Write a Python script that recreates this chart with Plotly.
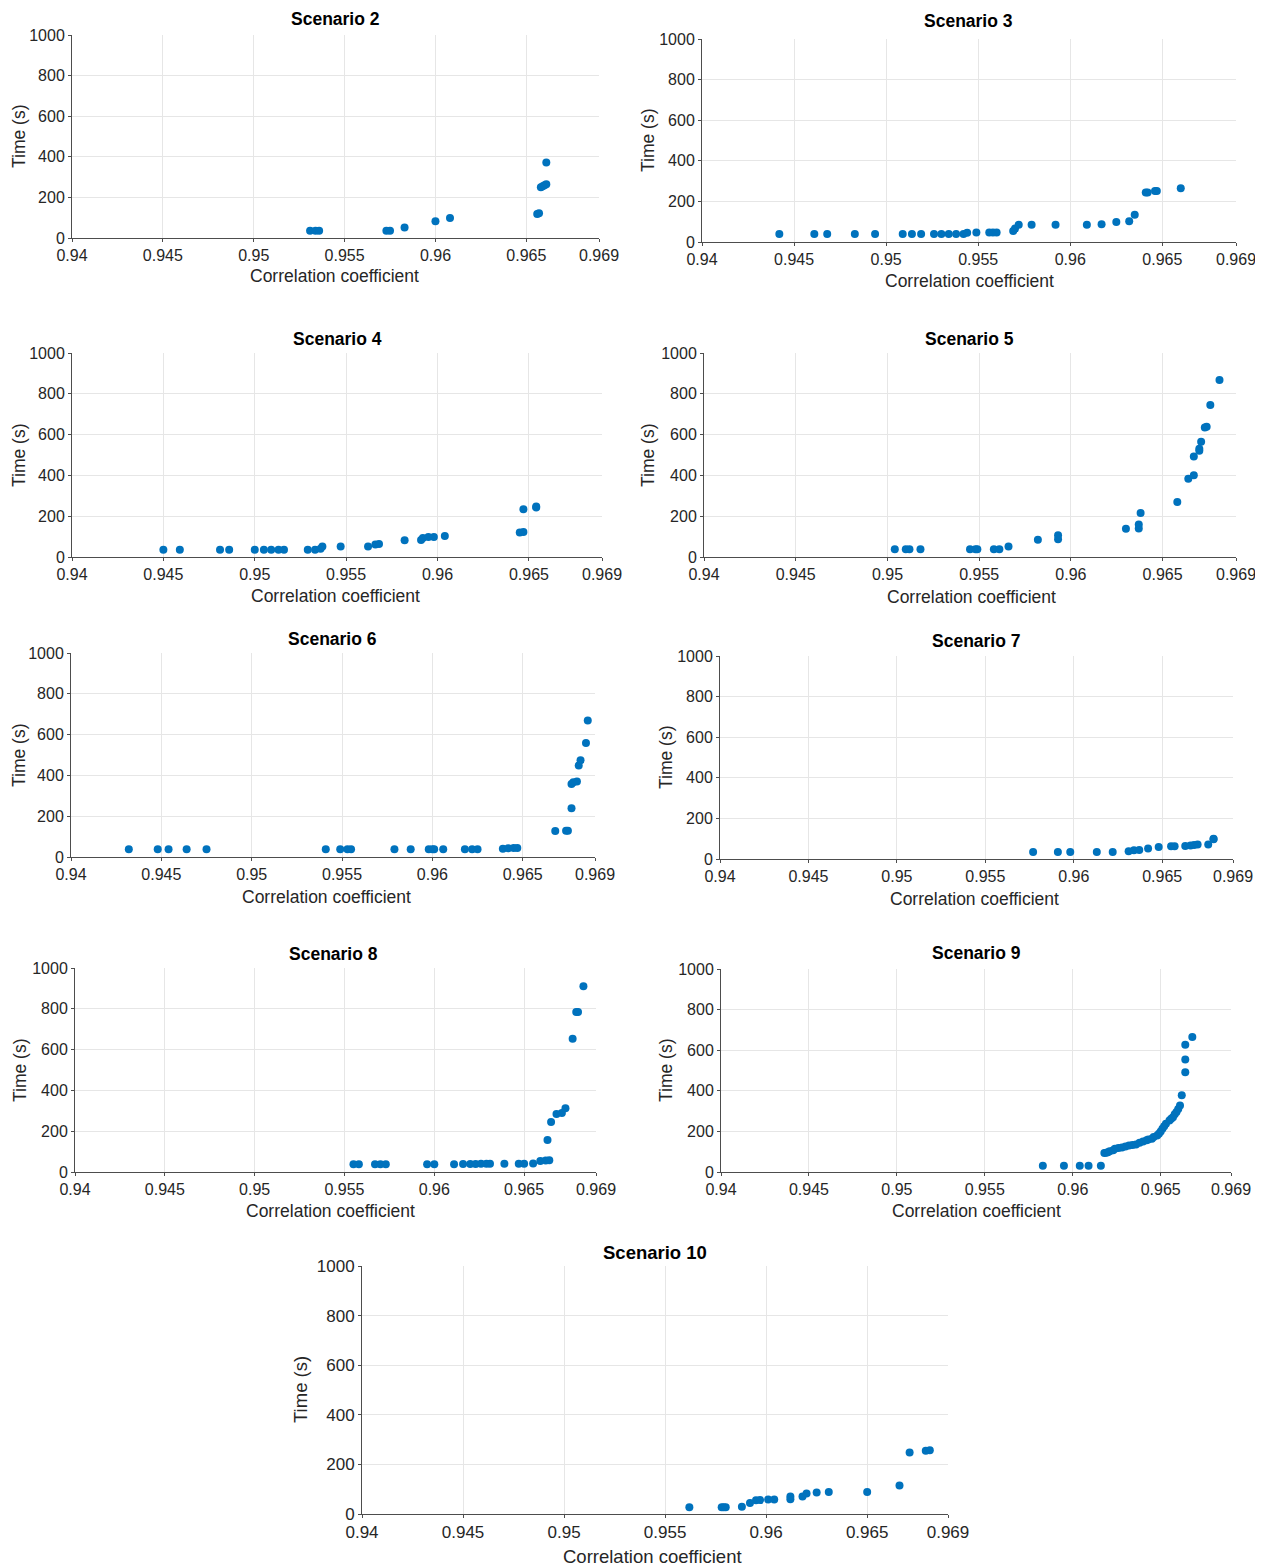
import plotly.graph_objects as go

W, H = 1263, 1566
OFF = 8                      # page body margin
FW, FH = W - OFF, H - OFF    # figure size

# ---------------- data ----------------
s2_corr = [0.9531, 0.9534, 0.9536, 0.9573, 0.9575, 0.9583, 0.9600, 0.9608,
           0.9656, 0.9657, 0.9658, 0.9659, 0.9660, 0.9661, 0.9661]
s2_time = [36, 36, 36, 36, 36, 52, 83, 98, 118, 122, 250, 255, 260, 265, 372]

s3_corr = [0.9442, 0.9461, 0.9468, 0.9483, 0.9494, 0.9509, 0.9514, 0.9519,
           0.9526, 0.9530, 0.9534, 0.9538, 0.9542, 0.9544, 0.9549, 0.9556,
           0.9558, 0.9560, 0.9569, 0.9570, 0.9572, 0.9579, 0.9592, 0.9609,
           0.9617, 0.9625, 0.9632, 0.9635, 0.9641, 0.9642, 0.9646, 0.9647, 0.9660]
s3_time = [39, 39, 39, 39, 39, 39, 39, 39, 39, 39, 39, 39, 40, 45, 47, 47,
           47, 47, 54, 67, 85, 85, 85, 85, 88, 99, 102, 134, 244, 244, 251, 251, 265]

s4_corr = [0.9450, 0.9459, 0.9481, 0.9486, 0.9500, 0.9505, 0.9509, 0.9513,
           0.9516, 0.9529, 0.9533, 0.9536, 0.9537, 0.9547, 0.9562, 0.9566,
           0.9568, 0.9582, 0.9591, 0.9592, 0.9595, 0.9598, 0.9604, 0.9645,
           0.9647, 0.9647, 0.9654, 0.9654]
s4_time = [35, 35, 35, 35, 35, 35, 35, 35, 35, 35, 35, 40, 51, 51, 51, 61,
           64, 82, 83, 93, 98, 98, 103, 120, 123, 234, 243, 247]

s5_corr = [0.9504, 0.9510, 0.9512, 0.9518, 0.9545, 0.9548, 0.9549, 0.9558,
           0.9561, 0.9566, 0.9582, 0.9593, 0.9593, 0.9630, 0.9637, 0.9637,
           0.9638, 0.9658, 0.9664, 0.9667, 0.9667, 0.9670, 0.9670, 0.9671,
           0.9673, 0.9674, 0.9676, 0.9681]
s5_time = [38, 38, 38, 38, 38, 38, 38, 38, 38, 52, 84, 87, 107, 138, 140,
           159, 216, 269, 383, 401, 493, 521, 531, 565, 635, 638, 745, 868]

s6_corr = [0.9432, 0.9448, 0.9454, 0.9464, 0.9475, 0.9541, 0.9549, 0.9553,
           0.9555, 0.9579, 0.9588, 0.9598, 0.9600, 0.9601, 0.9606, 0.9618,
           0.9622, 0.9625, 0.9639, 0.9642, 0.9645, 0.9647, 0.9668, 0.9674,
           0.9675, 0.9677, 0.9677, 0.9678, 0.9680, 0.9681, 0.9682, 0.9685, 0.9686]
s6_time = [38, 38, 38, 38, 38, 38, 38, 38, 38, 38, 38, 38, 38, 38, 38, 38,
           38, 38, 41, 43, 44, 44, 127, 129, 129, 239, 358, 366, 370, 448,
           474, 559, 669]

s7_corr = [0.9577, 0.9591, 0.9598, 0.9613, 0.9622, 0.9631, 0.9634, 0.9637,
           0.9642, 0.9648, 0.9655, 0.9657, 0.9663, 0.9666, 0.9668, 0.9670,
           0.9676, 0.9679, 0.9679]
s7_time = [34, 35, 35, 35, 35, 38, 43, 44, 52, 59, 63, 63, 64, 66, 69, 71,
           72, 97, 100]

s8_corr = [0.9555, 0.9558, 0.9567, 0.9570, 0.9573, 0.9596, 0.9600, 0.9611,
           0.9616, 0.9620, 0.9623, 0.9626, 0.9629, 0.9631, 0.9639, 0.9647,
           0.9650, 0.9655, 0.9659, 0.9662, 0.9664, 0.9663, 0.9665, 0.9668,
           0.9671, 0.9673, 0.9677, 0.9679, 0.9680, 0.9683]
s8_time = [38, 38, 38, 38, 38, 38, 38, 38, 39, 39, 39, 40, 40, 40, 41, 41,
           41, 42, 54, 56, 57, 157, 245, 284, 289, 312, 653, 784, 784, 911]

s9_corr = [0.9583, 0.9595, 0.9604, 0.9609, 0.9616, 0.9618, 0.9619, 0.9620,
           0.9621, 0.9623, 0.9624, 0.9626, 0.9628, 0.9630, 0.9632, 0.9634,
           0.9636, 0.9638, 0.9640, 0.9642, 0.9643, 0.9645, 0.9646, 0.9648,
           0.9649, 0.9650, 0.9651, 0.9652, 0.9653, 0.9655, 0.9656, 0.9657,
           0.9658, 0.9659, 0.9660, 0.9661, 0.9662, 0.9664, 0.9664, 0.9664, 0.9668]
s9_time = [31, 31, 31, 31, 31, 93, 95, 97, 102, 107, 115, 118, 121, 126,
           130, 133, 136, 144, 150, 156, 160, 164, 172, 180, 189, 200, 213,
           225, 238, 254, 262, 270, 285, 295, 310, 328, 378, 491, 554, 627, 665]

s10_corr = [0.9562, 0.9578, 0.9579, 0.9580, 0.9588, 0.9592, 0.9595, 0.9597,
            0.9601, 0.9604, 0.9612, 0.9612, 0.9618, 0.9620, 0.9625, 0.9631,
            0.9650, 0.9666, 0.9671, 0.9679, 0.9681]
s10_time = [27, 27, 27, 27, 29, 44, 55, 56, 58, 58, 59, 71, 71, 83, 87, 89,
            89, 115, 248, 255, 257]

x_tickvals = [0.94, 0.945, 0.95, 0.955, 0.96, 0.965, 0.969]
x_ticktext = ["0.94", "0.945", "0.95", "0.955", "0.96", "0.965", "0.969"]
y_tickvals = [0, 200, 400, 600, 800, 1000]
y_ticktext = ["0", "200", "400", "600", "800", "1000"]

titles = ["Scenario 2", "Scenario 3", "Scenario 4", "Scenario 5", "Scenario 6",
          "Scenario 7", "Scenario 8", "Scenario 9", "Scenario 10"]
series = [(s2_corr, s2_time), (s3_corr, s3_time), (s4_corr, s4_time),
          (s5_corr, s5_time), (s6_corr, s6_time), (s7_corr, s7_time),
          (s8_corr, s8_time), (s9_corr, s9_time), (s10_corr, s10_time)]

# ---------------- layout (page-pixel geometry) ----------------
# axes boxes: (left, right, top, bottom) in px
boxes = [(72, 599, 35, 238), (702, 1236, 39, 242),
         (72, 602, 353, 557), (704, 1236, 353, 557),
         (71, 595, 653, 857), (720, 1233, 656, 859),
         (75, 596, 968, 1172), (721, 1231, 969, 1172),
         (362, 948, 1266, 1514)]
# title center, xlabel center, ylabel center
title_pos = [(335, 19), (968, 21), (337, 339), (969, 339), (332, 639),
             (976, 641), (333, 954), (976, 953), (655, 1252)]
xlab_pos = [(334, 276), (969, 281), (335, 596), (971, 597), (326, 897),
            (974, 899), (330, 1211), (976, 1211), (652, 1556)]
ylab_pos = [(19, 136), (648, 140), (19, 455), (648, 455), (19, 755),
            (666, 757), (20, 1070), (666, 1070), (300, 1390)]
tick_size = [16, 16, 16, 16, 16, 16, 16, 16, 17]
lab_size = [17.5, 17.5, 17.5, 17.5, 17.5, 17.5, 17.5, 17.5, 18.5]

FONT = "Liberation Sans, Arial, sans-serif"
BLUE = "#0072BD"
AXC = "#262626"
GRID = "#e6e6e6"


def px(x):
    return (x - OFF) / FW


def py(y):
    return 1 - (y - OFF) / FH


fig = go.Figure()
layout = dict(template="none", width=FW, height=FH,
              margin=dict(l=0, r=0, t=0, b=0, pad=0, autoexpand=False),
              paper_bgcolor="white", plot_bgcolor="white",
              showlegend=False, font=dict(family=FONT, color=AXC))
annotations = []

for i, ((xs, ys), box, ttl) in enumerate(zip(series, boxes, titles)):
    k = "" if i == 0 else str(i + 1)
    l, r, t, b = box
    fig.add_trace(go.Scatter(x=xs, y=ys, mode="markers",
                             marker=dict(color=BLUE, size=8, line=dict(width=0)),
                             xaxis="x" + k, yaxis="y" + k, hoverinfo="x+y"))
    common = dict(showgrid=True, gridcolor=GRID, gridwidth=1,
                  showline=True, linecolor="#4d4d4d", linewidth=1,
                  ticks="outside", ticklen=3, tickcolor="#4d4d4d",
                  zeroline=False, mirror=False, automargin=False,
                  tickfont=dict(family=FONT, size=tick_size[i], color=AXC))
    layout["xaxis" + k] = dict(domain=[px(l), px(r)], anchor="y" + k,
                               range=[0.94, 0.969], tickvals=x_tickvals,
                               ticktext=x_ticktext, **common)
    layout["yaxis" + k] = dict(domain=[py(b), py(t)], anchor="x" + k,
                               range=[0, 1000], tickvals=y_tickvals,
                               ticktext=y_ticktext, **common)
    tx, ty = title_pos[i]
    annotations.append(dict(text="<b>" + ttl + "</b>", x=px(tx), y=py(ty),
                            xref="paper", yref="paper", showarrow=False,
                            xanchor="center", yanchor="middle",
                            font=dict(family=FONT, size=lab_size[i], color="black")))
    lx, ly = xlab_pos[i]
    annotations.append(dict(text="Correlation coefficient", x=px(lx), y=py(ly),
                            xref="paper", yref="paper", showarrow=False,
                            xanchor="center", yanchor="middle",
                            font=dict(family=FONT, size=lab_size[i], color=AXC)))
    yx, yy = ylab_pos[i]
    annotations.append(dict(text="Time (s)", x=px(yx), y=py(yy), textangle=-90,
                            xref="paper", yref="paper", showarrow=False,
                            xanchor="center", yanchor="middle",
                            font=dict(family=FONT, size=lab_size[i], color=AXC)))

layout["annotations"] = annotations
fig.update_layout(**layout)
fig.write_html("out.html")
